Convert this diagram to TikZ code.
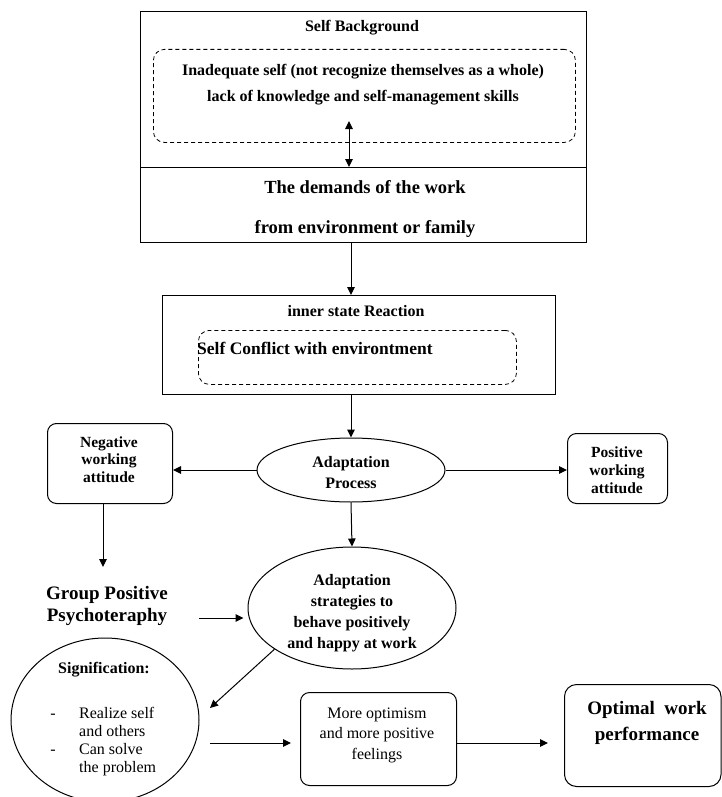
\documentclass[tikz,border=0pt]{standalone}
\usepackage{fontspec}
\setmainfont{Liberation Serif}
\usetikzlibrary{arrows.meta,shapes.geometric}
\tikzset{
  box/.style={draw, line width=1pt, inner sep=0pt, anchor=north west},
  rbox/.style={box, rounded corners=9pt},
  dbox/.style={box, line width=0.8pt, dash pattern=on 4pt off 3pt, rounded corners=11pt},
  ell/.style={draw, ellipse, line width=1pt, inner sep=0pt},
  bt/.style={inner sep=0pt, anchor=base, font=\bfseries\fontsize{16}{19}\selectfont},
  btm/.style={bt, font=\bfseries\fontsize{15.5}{18}\selectfont},
  btb/.style={bt, font=\bfseries\fontsize{18.5}{22}\selectfont},
  btl/.style={bt, font=\bfseries\fontsize{19}{23}\selectfont},
  rt/.style={inner sep=0pt, anchor=base, font=\fontsize{16}{19}\selectfont},
  arr/.style={-{Triangle[length=8pt,width=7.5pt]}, line width=1pt},
  darr/.style={{Triangle[length=8pt,width=7.5pt]}-{Triangle[length=8pt,width=7.5pt]}, line width=1pt}
}
\begin{document}
\begin{tikzpicture}[x=1pt,y=-1pt]
\useasboundingbox (0,0) rectangle (721,797);
% top block
\node[box, minimum width=446pt, minimum height=156pt] (bg) at (140,11) {};
\node[box, minimum width=446pt, minimum height=75pt] (dem) at (140,167) {};
\node[dbox, minimum width=422pt, minimum height=93pt] (inad) at (153,49) {};
\node[bt] (tbg) at (362,32) {Self Background};
\node[bt] (t1) at (363,76) {Inadequate self (not recognize themselves as a whole)};
\node[bt] (t2) at (363,102) {lack of knowledge and self-management skills};
\node[btb] (d1) at (365,193) {The demands of the work};
\node[btb] (d2) at (365,233) {from environment or family};
\coordinate (dbl) at (349,121);
\draw[darr] (dbl) -- (dbl |- dem.north);
% reaction
\node[box, minimum width=393pt, minimum height=99pt] (react) at (162,295) {};
\node[dbox, minimum width=318pt, minimum height=54pt] (confl) at (198,330) {};
\node[bt] (tr) at (356,316) {inner state Reaction};
\node[bt, anchor=base west, font=\bfseries\fontsize{17.5}{21}\selectfont] (tc) at (197,354) {Self Conflict with environtment};
% adaptation process
\node[ell, minimum width=188pt, minimum height=64pt] (ap) at (351,470) {};
\node[bt] (ap1) at (351,467) {Adaptation};
\node[bt] (ap2) at (351,488) {Process};
\draw[arr] (dem.south -| ap.north) -- (react.north -| ap.north);
\draw[arr] (react.south -| ap.north) -- (ap.north);
% negative / positive
\node[rbox, minimum width=125pt, minimum height=80pt] (neg) at (47,423) {};
\node[btm] (n1) at (109,447) {Negative};
\node[btm] (n2) at (109,464) {working};
\node[btm] (n3) at (109,482) {attitude};
\node[rbox, minimum width=100pt, minimum height=70pt] (pos) at (567,433) {};
\node[btm] (p1) at (617,457) {Positive};
\node[btm] (p2) at (617,475) {working};
\node[btm] (p3) at (617,493) {attitude};
\draw[arr] (ap.west) -- (ap.west -| neg.east);
\draw[arr] (ap.east) -- (ap.east -| pos.west);
% group positive psychotherapy
\coordinate (gtop) at (103,567);
\draw[arr] (gtop |- neg.south) -- (gtop);
\node[btl] (g1) at (107,599) {Group Positive};
\node[btl] (g2) at (107,621) {Psychoteraphy};
% strategies
\node[ell, minimum width=208pt, minimum height=122pt] (st) at (352,608) {};
\node[bt] (s1t) at (352,585) {Adaptation};
\node[bt] (s2t) at (352,606) {strategies to};
\node[bt] (s3t) at (352,627) {behave positively};
\node[bt] (s4t) at (352,648) {and happy at work};
\draw[arr] (ap.south) -- (st.north);
\coordinate (ga) at (199,618);
\draw[arr, shorten >=4pt] (ga) -- (ga -| st.west);
% signification
\node[ell, minimum width=188pt, minimum height=164pt] (sig) at (105,720) {};
\node[bt] (sg) at (104,673) {Signification:};
\node[rt] (da1) at (53,718) {-};
\node[rt] (da2) at (53,754) {-};
\node[rt, anchor=base west] (l1) at (79,718) {Realize self};
\node[rt, anchor=base west] (l2) at (79,736) {and others};
\node[rt, anchor=base west] (l3) at (79,754) {Can solve};
\node[rt, anchor=base west] (l4) at (79,772) {the problem};
\coordinate (sgin) at (210,708);
\draw[arr] (st.208) -- (sgin);
% more optimism
\node[rbox, minimum width=156pt, minimum height=93pt] (more) at (300,692) {};
\node[rt] (m1) at (377,718) {More optimism};
\node[rt] (m2) at (377,738) {and more positive};
\node[rt] (m3) at (377,759) {feelings};
% optimal
\node[rbox, rounded corners=12pt, minimum width=156.5pt, minimum height=102pt] (opt) at (564,684) {};
\node[btl] (o1) at (647,714) {Optimal~ work};
\node[btl] (o2) at (647,740) {performance};
\coordinate (sa) at (210,743);
\draw[arr] (sa) -- ([xshift=-9pt]sa -| more.west);
\draw[arr] (more.east |- sa) -- ([xshift=-16pt]sa -| opt.west);
\end{tikzpicture}
\end{document}
